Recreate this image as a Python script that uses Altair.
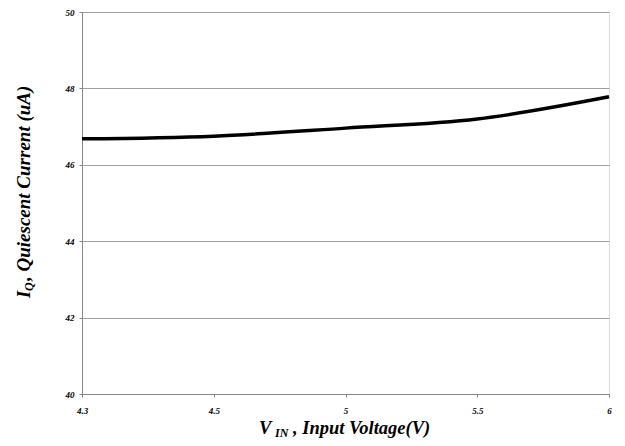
import altair as alt
import pandas as pd

vin = ["4.3", "4.5", "5", "5.5", "6"]
iq = [46.68, 46.75, 46.96, 47.20, 47.78]
y_ticks = [40, 42, 44, 46, 48, 50]

FONT = "Liberation Serif"
df = pd.DataFrame({"vin": vin, "iq": iq})
one = pd.DataFrame({"k": [0]})

line = alt.Chart(df).mark_line(color="black", strokeWidth=3.5, interpolate="monotone").encode(
    x=alt.X("vin:O", sort=vin, scale=alt.Scale(type="point", padding=0),
            axis=alt.Axis(title=None, labelAngle=0, labelFont=FONT, labelFontSize=9,
                          labelFontWeight="bold", labelFontStyle="italic", labelColor="black",
                          tickSize=3, tickColor="#888", domainColor="#888", labelPadding=9,
                          grid=False)),
    y=alt.Y("iq:Q", scale=alt.Scale(domain=[40, 50], nice=False, zero=False),
            axis=alt.Axis(title=None, values=y_ticks, labelFont=FONT, labelFontSize=9,
                          labelFontWeight="bold", labelFontStyle="italic", labelColor="black",
                          tickSize=3, tickColor="#888", domainColor="#888", labelPadding=5,
                          gridColor="#a0a0a0", gridWidth=1)),
)

def txt(s, x, y, size, angle=0, align="left"):
    return alt.Chart(one).mark_text(text=s, font=FONT, fontSize=size, fontWeight="bold",
                                    fontStyle="italic", color="black", align=align,
                                    baseline="alphabetic", angle=angle).encode(
        x=alt.value(x), y=alt.value(y))

# x title pieces (plot-area coords; origin at page 82,12)
xt = [
    txt("V", 177, 422, 18.5),
    txt("IN", 193, 425, 12),
    txt(", Input Voltage(V)", 211, 422, 18.5),
]
# y title pieces, rotated
yt = [
    txt("I", -52, 286, 18.5, angle=270),
    txt("Q", -49, 279, 12, angle=270),
    txt(", Quiescent Current (uA)", -52, 269, 19, angle=270),
]

chart = alt.layer(line, *xt, *yt).properties(
    width=527, height=382,
    autosize=alt.AutoSizeParams(type="none"),
    padding={"left": 74, "top": 4, "right": 8, "bottom": 50},
).configure_view(stroke=None).configure(background="white")

chart.save("out.html", embed_options={"renderer": "svg", "actions": False})
